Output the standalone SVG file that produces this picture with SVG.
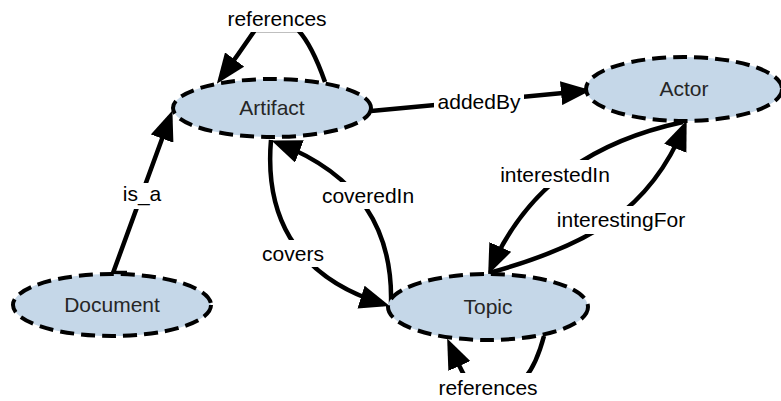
<svg xmlns="http://www.w3.org/2000/svg" width="781" height="401" viewBox="0 0 781 401">
<defs>
<marker id="arr" markerUnits="userSpaceOnUse" markerWidth="30" markerHeight="24" refX="23" refY="12" orient="auto">
<path d="M0,0 L30,12 L0,24 z" fill="#000"/>
</marker>
<style>
.node ellipse{fill:#c5d7e8;stroke:#000;stroke-width:4;stroke-dasharray:14 7}
.node text{font-family:"Liberation Sans",Arial,sans-serif;font-size:21px;fill:#262626;text-anchor:middle}
.edge{fill:none;stroke:#000;stroke-width:4.5}
.arrow{marker-end:url(#arr)}
.lbl rect{fill:#fff}
.lbl text{font-family:"Liberation Sans",Arial,sans-serif;font-size:21px;fill:#000;text-anchor:middle}
</style>
</defs>
<rect width="781" height="401" fill="#fff"/>
<g id="connectors">
<path class="edge arrow" d="M325,82 Q312,45 298,30 L255,30 Q238,55 221,78"/>
<path class="edge arrow" d="M371,111 L584,91"/>
<path class="edge arrow" d="M127,273 L113,273 L170,117"/>
<path class="edge arrow" d="M271,140 C265,210 290,275 383,304"/>
<path class="edge arrow" d="M391,304 C393,230 360,175 278,143"/>
<path class="edge arrow" d="M683,122 C600,140 530,180 491,268"/>
<path class="edge arrow" d="M489,273 C590,245 650,210 684,127"/>
<path class="edge arrow" d="M544,336 C535,370 520,395 490,395 C470,395 462,372 450,345"/>
<g class="lbl"><rect x="224" y="5" width="108" height="27"/><text x="277" y="26">references</text></g>
<g class="lbl"><rect x="434" y="90" width="90" height="24"/><text x="479" y="109">addedBy</text></g>
<g class="lbl"><rect x="120" y="183" width="44" height="26"/><text x="142" y="201">is_a</text></g>
<g class="lbl"><rect x="318" y="182" width="100" height="27"/><text x="368" y="203">coveredIn</text></g>
<g class="lbl"><rect x="258" y="240" width="70" height="27"/><text x="293" y="261">covers</text></g>
<g class="lbl"><rect x="494" y="160" width="122" height="28"/><text x="555" y="182">interestedIn</text></g>
<g class="lbl"><rect x="550" y="206" width="142" height="28"/><text x="621" y="227">interestingFor</text></g>
<g class="lbl"><rect x="434" y="373" width="108" height="27"/><text x="488" y="395">references</text></g>
</g>
<g id="node-artifact" class="node"><ellipse cx="272" cy="108" rx="99" ry="29"/><text x="272" y="115">Artifact</text></g>
<g id="node-actor" class="node"><ellipse cx="684" cy="89" rx="98" ry="32"/><text x="684" y="96">Actor</text></g>
<g id="node-document" class="node"><ellipse cx="112" cy="305" rx="99" ry="31"/><text x="112" y="312">Document</text></g>
<g id="node-topic" class="node"><ellipse cx="488" cy="307" rx="100" ry="33"/><text x="488" y="314">Topic</text></g>
</svg>
